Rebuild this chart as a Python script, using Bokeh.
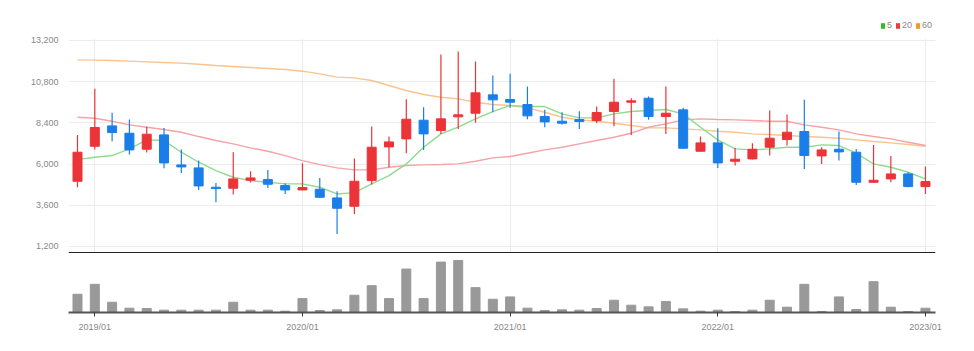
from bokeh.plotting import figure
from bokeh.layouts import column
from bokeh.models import (FixedTicker, NumeralTickFormatter, Range1d, Legend,
                          LegendItem, ColumnDataSource, Span, BoxAnnotation)
from bokeh.embed import file_html
from bokeh.resources import INLINE

months = ["2018/12",
          "2019/01", "2019/02", "2019/03", "2019/04", "2019/05", "2019/06",
          "2019/07", "2019/08", "2019/09", "2019/10", "2019/11", "2019/12",
          "2020/01", "2020/02", "2020/03", "2020/04", "2020/05", "2020/06",
          "2020/07", "2020/08", "2020/09", "2020/10", "2020/11", "2020/12",
          "2021/01", "2021/02", "2021/03", "2021/04", "2021/05", "2021/06",
          "2021/07", "2021/08", "2021/09", "2021/10", "2021/11", "2021/12",
          "2022/01", "2022/02", "2022/03", "2022/04", "2022/05", "2022/06",
          "2022/07", "2022/08", "2022/09", "2022/10", "2022/11", "2022/12",
          "2023/01"]

open_ = [5000, 7041, 8226, 7798, 6866, 7701, 5953, 5778, 4651, 4593, 5059, 5098, 4748,
         4495, 4534, 4029, 3543, 5039, 7002, 7468, 8556, 7954, 8751, 8964, 10033,
         9761, 9469, 8770, 8498, 8595, 8537, 9061, 9605, 9839, 8770, 9159, 6749,
         7235, 6166, 6302, 6982, 7429, 7896, 6477, 6866, 6691, 4942, 5137, 5428,
         4690]
high = [7701, 10383, 8984, 8595, 8168, 8109, 6846, 6205, 4904, 6691, 5583, 5661, 4884,
        6050, 5195, 4418, 6322, 8187, 7604, 9780, 9314, 12384, 12559, 11976, 11160,
        11257, 10519, 9159, 9022, 9081, 9353, 10966, 9839, 9936, 10519, 9275, 7604,
        8090, 6944, 7216, 9120, 8887, 9741, 6982, 7896, 6885, 7118, 6477, 5525,
        5855]
low = [4651, 6846, 7332, 6555, 6672, 5758, 5486, 4495, 3776, 4223, 4923, 4612, 4262,
       4470, 4029, 1931, 3096, 4806, 5817, 6633, 6827, 7760, 8051, 8401, 9022,
       9275, 8614, 8148, 8304, 8051, 8381, 8207, 7701, 8576, 7760, 6885, 6740,
       5778, 5914, 6263, 6497, 7080, 5719, 6011, 6205, 4787, 4920, 4942, 4651,
       4262]
close = [6691, 8129, 7837, 6827, 7740, 6069, 5836, 4729, 4573, 5137, 5195, 4826, 4495,
         4631, 4068, 3427, 5000, 6982, 7293, 8614, 7760, 8634, 8867, 10149, 9741,
         9605, 8809, 8459, 8381, 8479, 9003, 9605, 9683, 8770, 8964, 6924, 7235,
         6069, 6283, 6866, 7507, 7857, 6497, 6827, 6710, 4942, 5059, 5428, 4690,
         4981]

ma5 = [6263, 6400, 6497, 6885, 7410, 7371, 6691, 6108, 5622, 5234, 5039, 4942, 4845,
       4845, 4651, 4262, 4340, 4845, 5331, 6011, 6982, 7760, 8148, 8634, 9061,
       9411, 9353, 9353, 8925, 8692, 8692, 8925, 9061, 9120, 9178, 8925, 8148,
       7410, 6885, 6827, 6885, 6982, 6982, 7118, 7080, 6633, 6011, 5817, 5525,
       5137]
ma20 = [8731, 8673, 8498, 8284, 8148, 8012, 7857, 7604, 7371, 7177, 6944, 6749, 6497,
        6205, 5972, 5778, 5661, 5661, 5817, 5914, 5953, 5972, 6011, 6166, 6361,
        6439, 6633, 6827, 6982, 7177, 7371, 7565, 7799, 8148, 8342, 8576, 8634,
        8595, 8576, 8537, 8498, 8498, 8284, 8148, 7993, 7760, 7604, 7468, 7274,
        7080]
ma60 = [12073, 12054, 12034, 11995, 11956, 11918, 11879, 11820, 11743, 11684, 11626,
        11568, 11510, 11412, 11257, 11063, 11024, 10868, 10577, 10285, 10052, 9897,
        9800, 9605, 9469, 9411, 9275, 9022, 8731, 8576, 8498, 8381, 8245, 8109,
        8109, 8051, 7993, 7915, 7857, 7760, 7721, 7662, 7604, 7565, 7507, 7410,
        7313, 7235, 7138, 7041]

volume = [55, 85, 31, 13, 12, 7, 7, 7, 7, 31, 7, 7, 4, 42, 6, 8, 52, 81, 42, 131, 42,
          152, 157, 75, 40, 47, 13, 6, 8, 7, 12, 37, 22, 17, 33, 11, 4, 7, 3, 7, 37,
          16, 85, 3, 47, 9, 93, 16, 3, 13]

y_ticks = [1200, 3600, 6000, 8400, 10800, 13200]
x_tick_labels = ["2019/01", "2020/01", "2021/01", "2022/01", "2023/01"]
ma_labels = ["5", "20", "60"]

FONT = "Liberation Sans"
UP = "#ec3338"
DOWN = "#1a7ee9"

idx = list(range(len(months)))
colors = [UP if c >= o else DOWN for o, c in zip(open_, close)]
src = ColumnDataSource(dict(
    x=idx, high=high, low=low,
    top=[max(o, c) for o, c in zip(open_, close)],
    bottom=[min(o, c) for o, c in zip(open_, close)],
    color=colors,
))
vsrc = ColumnDataSource(dict(x=idx, vol=volume))
tick_pos = [months.index(t) for t in x_tick_labels]

Y0, Y1 = 792, 14539
p1 = figure(width=974, height=253, x_range=Range1d(-0.52, 49.58),
            y_range=Range1d(Y0, Y1), output_backend="svg",
            toolbar_location=None, min_border_left=68, min_border_right=39,
            min_border_top=17, min_border_bottom=0)
p1.outline_line_color = None
p1.xaxis.visible = False

p1.yaxis.ticker = FixedTicker(ticks=y_ticks)
p1.yaxis.formatter = NumeralTickFormatter(format="0,0")
p1.yaxis.axis_line_color = None
p1.yaxis.major_tick_line_color = None
p1.yaxis.minor_tick_line_color = None
p1.yaxis.major_label_standoff = 4
p1.yaxis.major_label_text_font = FONT
p1.yaxis.major_label_text_font_size = "9px"
p1.yaxis.major_label_text_color = "#888888"

p1.xgrid.ticker = FixedTicker(ticks=tick_pos)
p1.xgrid.grid_line_color = "#ececec"
p1.ygrid.grid_line_color = "#ececec"

# hide grid above the top tick
p1.add_layout(BoxAnnotation(bottom=max(y_ticks) + 80, fill_color="white",
                            fill_alpha=1, line_color=None, level="underlay"))

p1.line(idx, ma60, color="#f9c48f", line_width=1.4)
p1.line(idx, ma20, color="#f5a3a6", line_width=1.4)
p1.line(idx, ma5, color="#8edb8e", line_width=1.4)

p1.segment(x0="x", y0="low", x1="x", y1="high", line_color="color", line_width=1.2,
           source=src)
p1.vbar(x="x", top="top", bottom="bottom", width=0.52, fill_color="color",
        line_color="color", source=src)

p1.add_layout(Span(location=Y0, dimension="width", line_color="#222222",
                   line_width=3))

leg_colors = ["#2cbf2c", "#ee3b3b", "#f3962c"]
items = []
for lab, col in zip(ma_labels, leg_colors):
    r = p1.vbar(x=[idx[-1]], top=[close[-1]], bottom=[close[-1]], width=0,
                fill_color=col, line_color=None)
    items.append(LegendItem(label=lab, renderers=[r]))
legend = Legend(items=items, orientation="horizontal", location=(812, 223),
                glyph_width=5, glyph_height=7, label_text_font=FONT,
                label_text_font_size="9px", label_text_color="#888888",
                label_standoff=2, spacing=3, padding=0, margin=0,
                border_line_color=None, background_fill_alpha=0,
                label_height=10, label_width=0)
p1.add_layout(legend)

p2 = figure(width=974, height=98, x_range=p1.x_range, y_range=Range1d(0, 178),
            output_backend="svg", toolbar_location=None, min_border_left=68,
            min_border_right=39, min_border_top=0, min_border_bottom=39)
p2.outline_line_color = None
p2.grid.grid_line_color = None
p2.yaxis.visible = False
p2.xaxis.ticker = FixedTicker(ticks=tick_pos)
p2.xaxis.major_label_overrides = {p: l for p, l in zip(tick_pos, x_tick_labels)}
p2.xaxis.axis_line_color = "#555555"
p2.xaxis.axis_line_width = 2
p2.xaxis.major_tick_line_color = "#333333"
p2.xaxis.major_tick_out = 4
p2.xaxis.major_tick_in = 0
p2.xaxis.minor_tick_line_color = None
p2.xaxis.major_label_standoff = 5
p2.xaxis.major_label_text_font = FONT
p2.xaxis.major_label_text_font_size = "9px"
p2.xaxis.major_label_text_color = "#888888"

p2.vbar(x="x", top="vol", width=0.52, fill_color="#999999", line_color="#999999",
        source=vsrc)

layout = column(p1, p2, spacing=0)
open("out.html", "w").write(file_html(layout, INLINE))
